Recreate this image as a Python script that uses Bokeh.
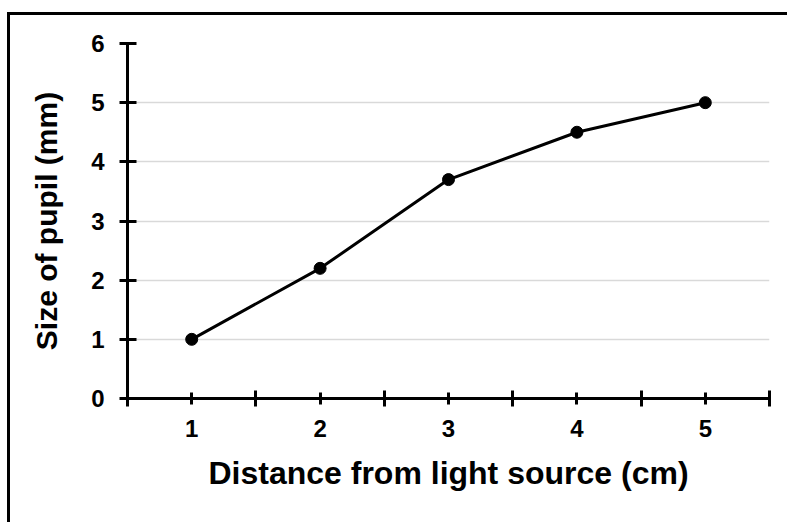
from bokeh.plotting import figure
from bokeh.models import FixedTicker, Range1d
from bokeh.embed import file_html
from bokeh.resources import INLINE

distance = [1, 2, 3, 4, 5]
pupil_size = [1.0, 2.2, 3.7, 4.5, 5.0]
x_tick_values = [1, 2, 3, 4, 5]
x_tick_labels = ["1", "2", "3", "4", "5"]
x_boundaries = [0.5, 1.5, 2.5, 3.5, 4.5, 5.5]
y_tick_values = [0, 1, 2, 3, 4, 5, 6]

FONT = "Liberation Sans"

p = figure(
    frame_width=642, frame_height=355,
    x_range=Range1d(0.5, 5.5), y_range=Range1d(0, 6),
    output_backend="svg", toolbar_location=None,
    min_border_left=117, min_border_top=28,
    min_border_right=40, min_border_bottom=140,
)
p.styles = {"border": "3px solid black", "margin-top": "12px", "margin-left": "7px"}
p.outline_line_color = None
p.background_fill_color = "white"
p.border_fill_color = "white"

p.xgrid.grid_line_color = None
p.ygrid.grid_line_color = "#d9d9d9"
p.ygrid.grid_line_width = 1.5
p.ygrid.ticker = FixedTicker(ticks=y_tick_values)

# x axis
xa = p.xaxis[0]
xa.ticker = FixedTicker(ticks=x_tick_values, minor_ticks=x_boundaries)
xa.major_label_overrides = {v: l for v, l in zip(x_tick_values, x_tick_labels)}
xa.axis_line_width = 3
xa.axis_line_color = "black"
xa.major_tick_line_width = 3
xa.major_tick_in = 6
xa.major_tick_out = 6
xa.minor_tick_line_width = 3
xa.minor_tick_in = 8
xa.minor_tick_out = 8
xa.major_label_text_font = FONT
xa.major_label_text_font_style = "bold"
xa.major_label_text_font_size = "24px"
xa.major_label_text_color = "black"
xa.major_label_standoff = 13
xa.axis_label = "Distance from light source (cm)"
xa.axis_label_text_font = FONT
xa.axis_label_text_font_style = "bold"
xa.axis_label_text_font_size = "32px"
xa.axis_label_text_color = "black"
xa.axis_label_standoff = 15

# y axis
ya = p.yaxis[0]
ya.ticker = FixedTicker(ticks=y_tick_values, minor_ticks=[])
ya.axis_line_width = 3
ya.axis_line_color = "black"
ya.major_tick_line_width = 3
ya.major_tick_in = 9
ya.major_tick_out = 8
ya.minor_tick_line_color = None
ya.major_label_text_font = FONT
ya.major_label_text_font_style = "bold"
ya.major_label_text_font_size = "24px"
ya.major_label_text_color = "black"
ya.major_label_standoff = 15
ya.axis_label = "Size of pupil (mm)"
ya.axis_label_text_font = FONT
ya.axis_label_text_font_style = "bold"
ya.axis_label_text_font_size = "30px"
ya.axis_label_text_color = "black"
ya.axis_label_standoff = 25

p.line(distance, pupil_size, line_color="black", line_width=3)
p.scatter(distance, pupil_size, size=12, fill_color="black", line_color="black")

open("out.html", "w").write(file_html(p, INLINE))
